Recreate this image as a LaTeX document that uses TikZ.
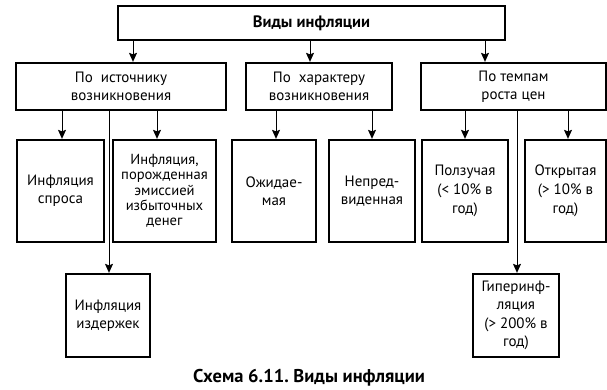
\documentclass[tikz,border=0pt]{standalone}
\usepackage{fontspec}
\setmainfont{PT Sans}
\usetikzlibrary{arrows.meta}
\frenchspacing
\begin{document}
\begin{tikzpicture}[x=1pt,y=-1pt,
  box/.style={draw, line width=2.3pt, inner sep=1pt, align=center,
    font=\fontsize{15}{18}\selectfont},
  arr/.style={line width=0.9pt, -{Stealth[length=9pt,width=8pt,inset=1.5pt]}}]
\useasboundingbox (0,0) rectangle (607,390);
\node[box, minimum width=387pt, minimum height=34pt, font=\bfseries\fontsize{16.5}{18}\selectfont] (top) at (311.5,23) {Виды инфляции};
\node[box, minimum width=210pt, minimum height=47pt] (b1) at (121,86.5) {По\ \ источнику\\возникновения};
\node[box, minimum width=146pt, minimum height=47pt] (b2) at (319,86.5) {По\ \ характеру\\возникновения};
\node[box, minimum width=185pt, minimum height=47pt] (b3) at (513.5,86.5) {По темпам\\роста цен};
\node[box, minimum width=87pt, minimum height=102pt] (c1) at (60.5,191) {Инфляция\\спроса};
\node[box, minimum width=103pt, minimum height=102pt, font=\fontsize{14.6}{15.2}\selectfont] (c2) at (164.5,191) {Инфляция,\\порожденная\\эмиссией\\избыточных\\денег};
\node[box, minimum width=84pt, minimum height=102pt] (c3) at (274,191) {Ожидае-\\мая};
\node[box, minimum width=86pt, minimum height=102pt] (c4) at (372,191) {Непред-\\виденная};
\node[box, minimum width=86pt, minimum height=102pt, font=\fontsize{15}{19}\selectfont] (c5) at (465,191) {Ползучая\\(< 10\% в\\год)};
\node[box, minimum width=81pt, minimum height=102pt, font=\fontsize{15}{19}\selectfont] (c6) at (565.5,191) {Открытая\\(> 10\% в\\год)};
\node[box, minimum width=84pt, minimum height=83pt] (d1) at (108,315.5) {Инфляция\\издержек};
\node[box, minimum width=86pt, minimum height=83pt, font=\fontsize{15}{18.5}\selectfont] (d2) at (516,315.5) {Гиперинф-\\ляция\\(> 200\% в\\год)};
\node[font=\bfseries\fontsize{18.5}{20}\selectfont] (cap) at (309,378) {Схема 6.11. Виды инфляции};
\draw[arr] ([xshift=12pt]b1.north |- top.south) -- ([xshift=12pt]b1.north);
\draw[arr] ([xshift=-9pt]b2.north |- top.south) -- ([xshift=-9pt]b2.north);
\draw[arr] ([xshift=-28.5pt]b3.north |- top.south) -- ([xshift=-28.5pt]b3.north);
\draw[arr] ([xshift=1.5pt]c1.north |- b1.south) -- ([xshift=1.5pt]c1.north);
\draw[arr] ([xshift=-7.5pt]c2.north |- b1.south) -- ([xshift=-7.5pt]c2.north);
\draw[arr] ([xshift=1pt]d1.north |- b1.south) -- ([xshift=1pt]d1.north);
\draw[arr] ([xshift=2pt]c3.north |- b2.south) -- ([xshift=2pt]c3.north);
\draw[arr] (c4.north |- b2.south) -- (c4.north);
\draw[arr] (c5.north |- b3.south) -- (c5.north);
\draw[arr] ([xshift=1pt]d2.north |- b3.south) -- ([xshift=1pt]d2.north);
\draw[arr] ([xshift=2.5pt]c6.north |- b3.south) -- ([xshift=2.5pt]c6.north);
\end{tikzpicture}
\end{document}
